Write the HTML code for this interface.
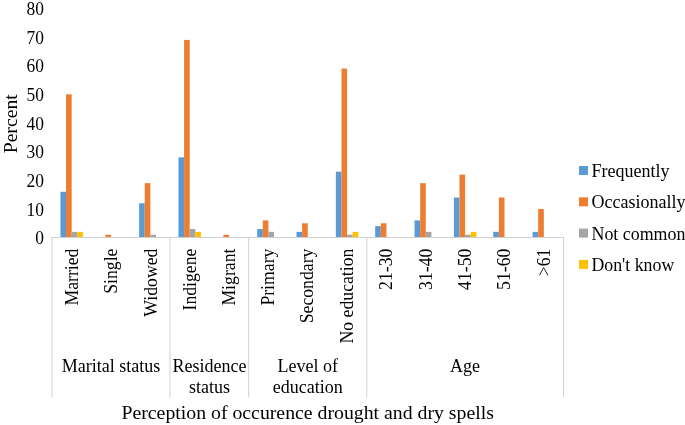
<!DOCTYPE html><html><head><meta charset="utf-8"><style>html,body{margin:0;padding:0;background:#fff}svg{display:block;opacity:0.999;will-change:transform}text{font-family:"Liberation Serif",serif;fill:#000}</style></head><body>
<svg width="685" height="425" viewBox="0 0 685 425">
<rect width="685" height="425" fill="#fff"/>
<rect x="60.43" y="191.76" width="5.62" height="45.84" fill="#5B9BD5"/>
<rect x="66.05" y="94.35" width="5.62" height="143.25" fill="#ED7D31"/>
<rect x="71.67" y="231.87" width="5.62" height="5.73" fill="#A5A5A5"/>
<rect x="77.29" y="231.87" width="5.62" height="5.73" fill="#FFC000"/>
<rect x="105.40" y="234.73" width="5.62" height="2.87" fill="#ED7D31"/>
<rect x="139.12" y="203.22" width="5.62" height="34.38" fill="#5B9BD5"/>
<rect x="144.74" y="183.16" width="5.62" height="54.44" fill="#ED7D31"/>
<rect x="150.37" y="234.73" width="5.62" height="2.87" fill="#A5A5A5"/>
<rect x="178.47" y="157.38" width="5.62" height="80.22" fill="#5B9BD5"/>
<rect x="184.09" y="39.91" width="5.62" height="197.69" fill="#ED7D31"/>
<rect x="189.71" y="229.00" width="5.62" height="8.60" fill="#A5A5A5"/>
<rect x="195.33" y="231.87" width="5.62" height="5.73" fill="#FFC000"/>
<rect x="223.44" y="234.73" width="5.62" height="2.87" fill="#ED7D31"/>
<rect x="257.16" y="229.00" width="5.62" height="8.60" fill="#5B9BD5"/>
<rect x="262.78" y="220.41" width="5.62" height="17.19" fill="#ED7D31"/>
<rect x="268.40" y="231.87" width="5.62" height="5.73" fill="#A5A5A5"/>
<rect x="296.51" y="231.87" width="5.62" height="5.73" fill="#5B9BD5"/>
<rect x="302.13" y="223.28" width="5.62" height="14.33" fill="#ED7D31"/>
<rect x="335.85" y="171.70" width="5.62" height="65.90" fill="#5B9BD5"/>
<rect x="341.48" y="68.56" width="5.62" height="169.04" fill="#ED7D31"/>
<rect x="347.10" y="234.73" width="5.62" height="2.87" fill="#A5A5A5"/>
<rect x="352.72" y="231.87" width="5.62" height="5.73" fill="#FFC000"/>
<rect x="375.20" y="226.14" width="5.62" height="11.46" fill="#5B9BD5"/>
<rect x="380.82" y="223.28" width="5.62" height="14.33" fill="#ED7D31"/>
<rect x="414.55" y="220.41" width="5.62" height="17.19" fill="#5B9BD5"/>
<rect x="420.17" y="183.16" width="5.62" height="54.44" fill="#ED7D31"/>
<rect x="425.79" y="231.87" width="5.62" height="5.73" fill="#A5A5A5"/>
<rect x="453.89" y="197.49" width="5.62" height="40.11" fill="#5B9BD5"/>
<rect x="459.51" y="174.57" width="5.62" height="63.03" fill="#ED7D31"/>
<rect x="465.13" y="234.73" width="5.62" height="2.87" fill="#A5A5A5"/>
<rect x="470.76" y="231.87" width="5.62" height="5.73" fill="#FFC000"/>
<rect x="493.24" y="231.87" width="5.62" height="5.73" fill="#5B9BD5"/>
<rect x="498.86" y="197.49" width="5.62" height="40.11" fill="#ED7D31"/>
<rect x="532.59" y="231.87" width="5.62" height="5.73" fill="#5B9BD5"/>
<rect x="538.21" y="208.95" width="5.62" height="28.65" fill="#ED7D31"/>
<g stroke="#D0D0D0" stroke-width="1" fill="none">
<line x1="51.5" y1="237.5" x2="564.0" y2="237.5"/>
<line x1="52.0" y1="237.5" x2="52.0" y2="397.5"/>
<line x1="170.0" y1="237.5" x2="170.0" y2="397.5"/>
<line x1="248.7" y1="237.5" x2="248.7" y2="397.5"/>
<line x1="366.8" y1="237.5" x2="366.8" y2="397.5"/>
<line x1="563.5" y1="237.5" x2="563.5" y2="397.5"/>
</g>
<text transform="translate(44,244.20) scale(1,1.06)" font-size="17.4" text-anchor="end">0</text>
<text transform="translate(44,215.54) scale(1,1.06)" font-size="17.4" text-anchor="end">10</text>
<text transform="translate(44,186.88) scale(1,1.06)" font-size="17.4" text-anchor="end">20</text>
<text transform="translate(44,158.22) scale(1,1.06)" font-size="17.4" text-anchor="end">30</text>
<text transform="translate(44,129.56) scale(1,1.06)" font-size="17.4" text-anchor="end">40</text>
<text transform="translate(44,100.90) scale(1,1.06)" font-size="17.4" text-anchor="end">50</text>
<text transform="translate(44,72.24) scale(1,1.06)" font-size="17.4" text-anchor="end">60</text>
<text transform="translate(44,43.58) scale(1,1.06)" font-size="17.4" text-anchor="end">70</text>
<text transform="translate(44,14.92) scale(1,1.06)" font-size="17.4" text-anchor="end">80</text>
<text transform="translate(17.2,123.8) rotate(-90)" font-size="19.7" text-anchor="middle">Percent</text>
<text transform="translate(78.07,248.6) rotate(-90) scale(1,1.04)" font-size="17.7" text-anchor="end">Married</text>
<text transform="translate(116.82,248.6) rotate(-90) scale(1,1.04)" font-size="17.7" text-anchor="end">Single</text>
<text transform="translate(156.67,248.6) rotate(-90) scale(1,1.04)" font-size="17.7" text-anchor="end">Widowed</text>
<text transform="translate(195.71,248.6) rotate(-90) scale(1,1.04)" font-size="17.7" text-anchor="end">Indigene</text>
<text transform="translate(234.66,248.6) rotate(-90) scale(1,1.04)" font-size="17.7" text-anchor="end">Migrant</text>
<text transform="translate(274.40,248.6) rotate(-90) scale(1,1.04)" font-size="17.7" text-anchor="end">Primary</text>
<text transform="translate(313.45,248.6) rotate(-90) scale(1,1.04)" font-size="17.7" text-anchor="end">Secondary</text>
<text transform="translate(353.40,248.6) rotate(-90) scale(1,1.04)" font-size="17.7" text-anchor="end">No education</text>
<text transform="translate(392.44,248.6) rotate(-90) scale(1,1.04)" font-size="17.7" text-anchor="end">21-30</text>
<text transform="translate(431.79,248.6) rotate(-90) scale(1,1.04)" font-size="17.7" text-anchor="end">31-40</text>
<text transform="translate(471.13,248.6) rotate(-90) scale(1,1.04)" font-size="17.7" text-anchor="end">41-50</text>
<text transform="translate(510.48,248.6) rotate(-90) scale(1,1.04)" font-size="17.7" text-anchor="end">51-60</text>
<text transform="translate(549.83,248.6) rotate(-90) scale(1,1.04)" font-size="17.7" text-anchor="end">&gt;61</text>
<text x="111.0" y="372.2" font-size="18.0" text-anchor="middle">Marital status</text>
<text x="209.4" y="372.2" font-size="18.0" text-anchor="middle">Residence</text>
<text x="209.4" y="393.2" font-size="18.0" text-anchor="middle">status</text>
<text x="307.8" y="372.2" font-size="18.0" text-anchor="middle">Level of</text>
<text x="307.8" y="393.2" font-size="18.0" text-anchor="middle">education</text>
<text x="465.1" y="372.2" font-size="18.0" text-anchor="middle">Age</text>
<text x="307.7" y="419" font-size="19.8" text-anchor="middle">Perception of occurence drought and dry spells</text>
<rect x="579" y="166.0" width="9" height="9" fill="#5B9BD5"/>
<text x="591.5" y="176.8" font-size="18.0">Frequently</text>
<rect x="579" y="197.3" width="9" height="9" fill="#ED7D31"/>
<text x="591.5" y="208.2" font-size="18.0">Occasionally</text>
<rect x="579" y="228.6" width="9" height="9" fill="#A5A5A5"/>
<text x="591.5" y="239.8" font-size="17.9">Not common</text>
<rect x="579" y="259.9" width="9" height="9" fill="#FFC000"/>
<text x="591.5" y="270.5" font-size="17.8">Don't know</text>
</svg></body></html>
